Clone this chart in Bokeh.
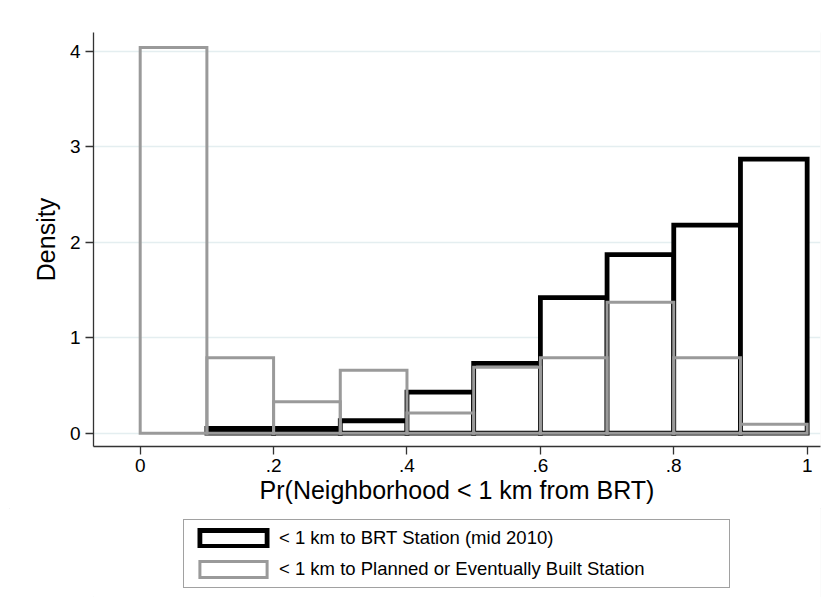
from bokeh.plotting import figure
from bokeh.layouts import column
from bokeh.models import FixedTicker, Legend, LegendItem, Range1d
from bokeh.embed import file_html
from bokeh.resources import INLINE

# ---- data ----
PLANNED_LEFT = [0.0, 0.1, 0.2, 0.3, 0.4, 0.5, 0.6, 0.7, 0.8, 0.9]
PLANNED_RIGHT = [0.1, 0.2, 0.3, 0.4, 0.5, 0.6, 0.7, 0.8, 0.9, 1.0]
PLANNED_DENSITY = [4.04, 0.79, 0.33, 0.66, 0.21, 0.69, 0.79, 1.37, 0.79, 0.094]

BRT_LEFT = [0.1, 0.2, 0.3, 0.4, 0.5, 0.6, 0.7, 0.8, 0.9]
BRT_RIGHT = [0.2, 0.3, 0.4, 0.5, 0.6, 0.7, 0.8, 0.9, 1.0]
BRT_DENSITY = [0.05, 0.05, 0.13, 0.43, 0.73, 1.42, 1.87, 2.18, 2.87]

X_TICKS = [0, 0.2, 0.4, 0.6, 0.8, 1.0]
X_TICK_LABELS = ["0", ".2", ".4", ".6", ".8", "1"]
Y_TICKS = [0, 1, 2, 3, 4]

X_TITLE = "Pr(Neighborhood < 1 km from BRT)"
Y_TITLE = "Density"
LEGEND_LABELS = ["< 1 km to BRT Station (mid 2010)",
                 "< 1 km to Planned or Eventually Built Station"]

FONT = "Liberation Sans"
GRAY = "#9a9a9a"
BRT_STYLE = dict(fill_color="white", line_color="black", line_width=4.8, line_join="miter")
PL_STYLE = dict(fill_color="white", fill_alpha=0, line_color=GRAY, line_width=3,
                line_join="miter")

# ---- main chart ----
p = figure(width=830, height=508, output_backend="svg", toolbar_location=None,
           x_range=Range1d(-0.07, 1.02), y_range=Range1d(-0.14, 4.197),
           min_border_left=93, min_border_right=10, min_border_top=32,
           min_border_bottom=62)
p.outline_line_color = None
p.background_fill_color = "white"
p.border_fill_color = "white"

p.quad(left=BRT_LEFT, right=BRT_RIGHT, bottom=0, top=BRT_DENSITY, **BRT_STYLE)
p.quad(left=PLANNED_LEFT, right=PLANNED_RIGHT, bottom=0, top=PLANNED_DENSITY, **PL_STYLE)

p.xaxis.ticker = FixedTicker(ticks=X_TICKS)
p.xaxis.major_label_overrides = {t: l for t, l in zip(X_TICKS, X_TICK_LABELS)}
p.yaxis.ticker = FixedTicker(ticks=Y_TICKS)
for ax in (p.xaxis, p.yaxis):
    ax.axis_line_color = "#333333"
    ax.axis_line_width = 1.3
    ax.major_tick_line_color = "#333333"
    ax.major_tick_line_width = 1.3
    ax.major_tick_out = 8
    ax.major_tick_in = 0
    ax.minor_tick_line_color = None
    ax.major_label_text_font = FONT
    ax.major_label_text_font_size = "19px"
    ax.major_label_text_color = "black"
    ax.axis_label_text_font = FONT
    ax.axis_label_text_font_size = "25px"
    ax.axis_label_text_font_style = "normal"
    ax.axis_label_text_color = "black"
p.xaxis.axis_label = X_TITLE
p.yaxis.axis_label = Y_TITLE
p.xaxis.major_label_standoff = 4
p.yaxis.major_label_standoff = 5
p.xaxis.axis_label_standoff = 1
p.yaxis.axis_label_standoff = 7
p.yaxis.major_label_orientation = "horizontal"

p.xgrid.grid_line_color = None
p.ygrid.ticker = FixedTicker(ticks=Y_TICKS)
p.ygrid.grid_line_color = "#e4eef0"
p.ygrid.grid_line_width = 1.5

# ---- legend strip (same series, hidden, only to key the legend) ----
lg = figure(width=830, height=98, output_backend="svg", toolbar_location=None,
            x_range=Range1d(-0.07, 1.02), y_range=Range1d(-0.14, 4.197),
            x_axis_location=None, y_axis_location=None, min_border=0)
lg.outline_line_color = None
lg.xgrid.grid_line_color = None
lg.ygrid.grid_line_color = None
lr1 = lg.quad(left=BRT_LEFT, right=BRT_RIGHT, bottom=0, top=BRT_DENSITY,
              visible=False, **BRT_STYLE)
lr2 = lg.quad(left=PLANNED_LEFT, right=PLANNED_RIGHT, bottom=0, top=PLANNED_DENSITY,
              visible=False, **PL_STYLE)
legend = Legend(items=[LegendItem(label=LEGEND_LABELS[0], renderers=[lr1]),
                       LegendItem(label=LEGEND_LABELS[1], renderers=[lr2])],
                location=(90, 18))
legend.border_line_color = "#444444"
legend.border_line_width = 1
legend.background_fill_color = "white"
legend.background_fill_alpha = 1
legend.padding = 7
legend.margin = 0
legend.spacing = 9
legend.glyph_width = 84
legend.glyph_height = 20
legend.label_height = 20
legend.label_width = 443
legend.label_standoff = 4
legend.label_text_font = FONT
legend.label_text_font_size = "18.5px"
legend.label_text_color = "black"
legend.label_text_baseline = "middle"
legend.click_policy = "none"
lg.add_layout(legend, "center")

layout = column(p, lg, spacing=0)
layout.styles = {"outline": "1px solid #f0f0f0", "outline-offset": "-10px"}

open("out.html", "w").write(file_html(layout, INLINE))
